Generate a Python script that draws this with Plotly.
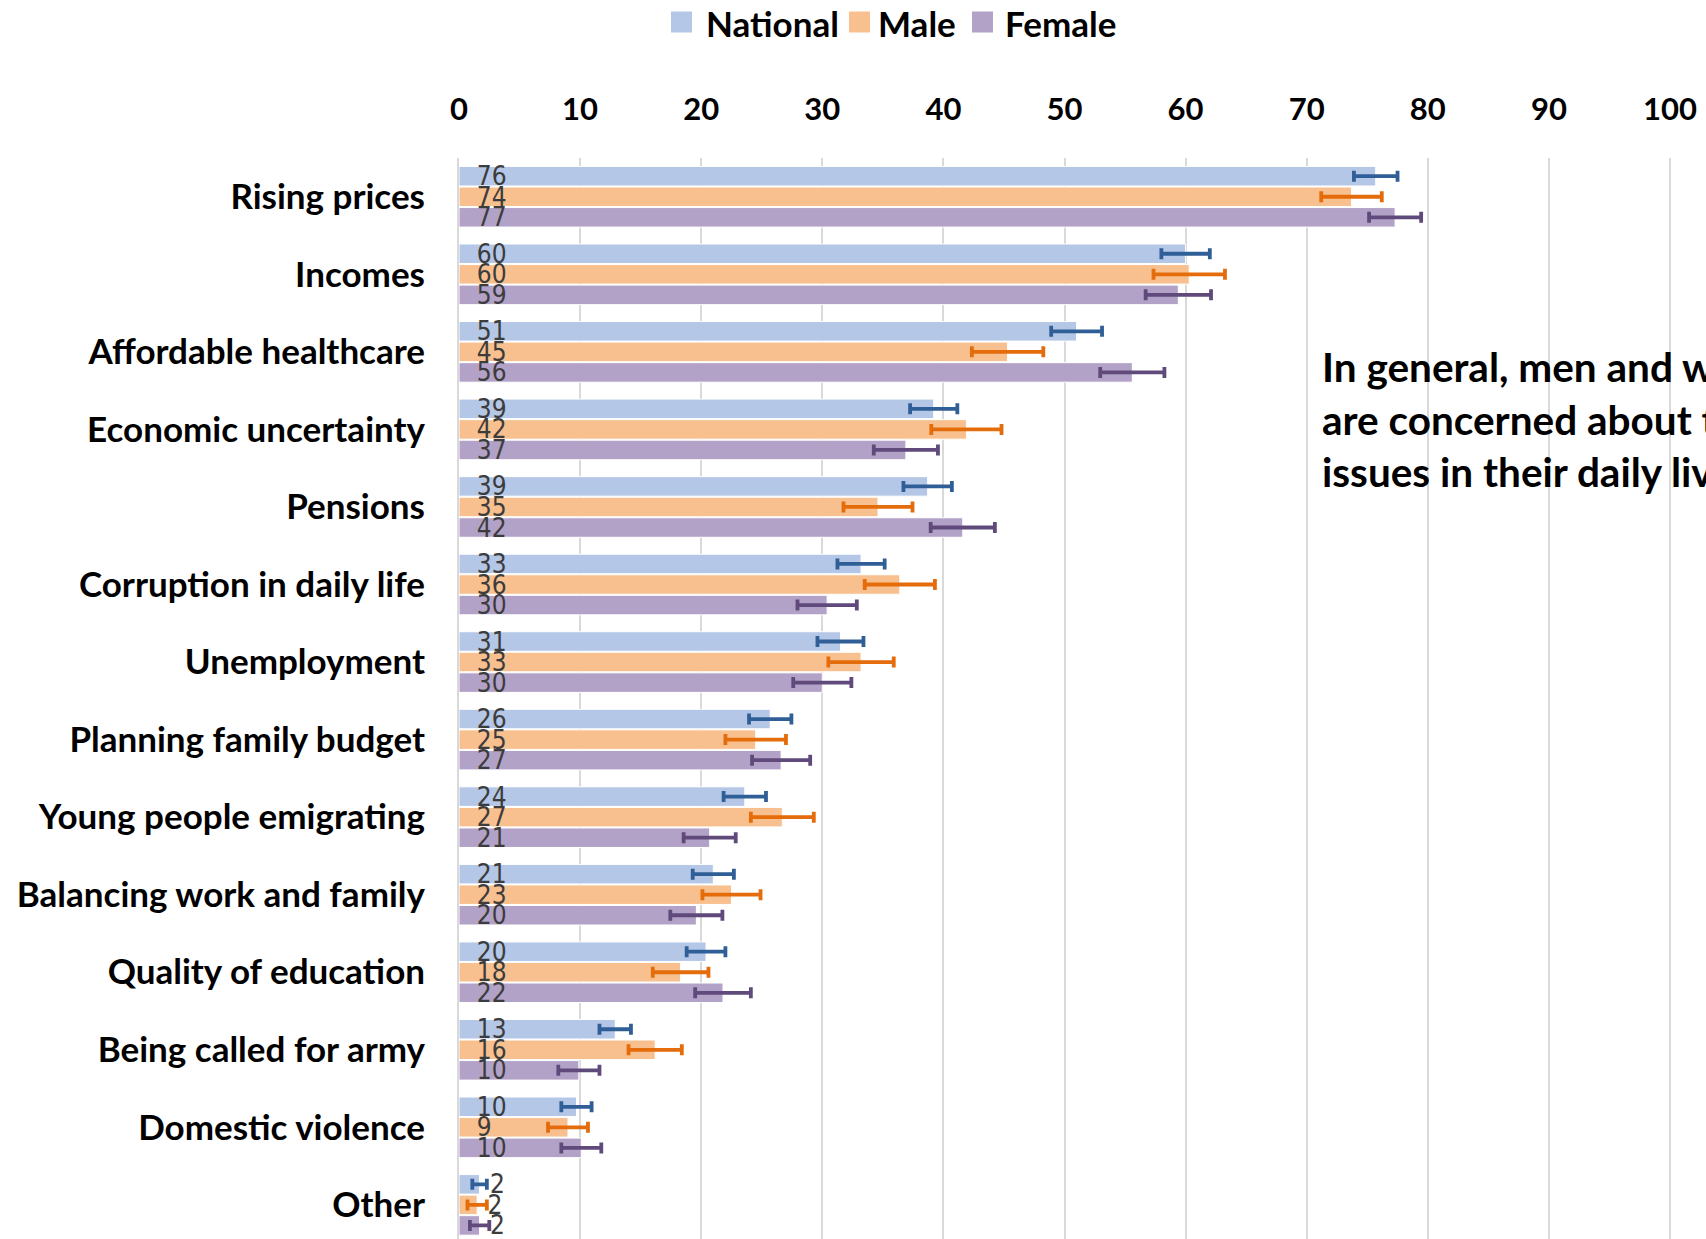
import plotly.graph_objects as go

categories = ["Rising prices", "Incomes", "Affordable healthcare", "Economic uncertainty",
              "Pensions", "Corruption in daily life", "Unemployment", "Planning family budget",
              "Young people emigrating", "Balancing work and family", "Quality of education",
              "Being called for army", "Domestic violence", "Other"]

national = [75.7, 60.0, 51.0, 39.2, 38.7, 33.2, 31.5, 25.7, 23.6, 21.0, 20.4, 12.9, 9.7, 1.7]
male = [73.7, 60.3, 45.3, 41.9, 34.6, 36.4, 33.2, 24.5, 26.7, 22.5, 18.3, 16.2, 9.0, 1.5]
female = [77.3, 59.4, 55.6, 36.9, 41.6, 30.4, 30.0, 26.6, 20.7, 19.6, 21.8, 9.9, 10.1, 1.7]

national_err = [1.8, 2.0, 2.1, 1.95, 2.0, 1.95, 1.9, 1.75, 1.75, 1.7, 1.6, 1.3, 1.25, 0.6]
male_err = [2.5, 2.95, 2.95, 2.9, 2.85, 2.9, 2.7, 2.5, 2.6, 2.4, 2.3, 2.2, 1.65, 0.8]
female_err = [2.15, 2.7, 2.65, 2.65, 2.65, 2.45, 2.4, 2.4, 2.15, 2.15, 2.3, 1.7, 1.65, 0.8]

national_lbl = [76, 60, 51, 39, 39, 33, 31, 26, 24, 21, 20, 13, 10, 2]
male_lbl = [74, 60, 45, 42, 35, 36, 33, 25, 27, 23, 18, 16, 9, 2]
female_lbl = [77, 59, 56, 37, 42, 30, 30, 27, 21, 20, 22, 10, 10, 2]

series_names = ["National", "Male", "Female"]
bar_colors = ["#B4C7E7", "#F8C08F", "#B3A2C7"]
err_colors = ["#2F5F96", "#E46C0A", "#5F4A7B"]

note = "In general, men and women<br>are concerned about the same<br>issues in their daily lives."

W, H = 1706, 1239
ML, MT = 459, 158
PW, PH = W - ML, H - MT

def px_x(p):
    return (p - ML) / PW

def px_y(p):
    return (H - p) / PH

label_font = "DejaVu Sans Condensed, Liberation Sans Narrow, sans-serif"
bold_font = "Lato, Open Sans, sans-serif"

fig = go.Figure()
NBSP = "\u00a0"
for name, vals, errs, lbls, col, ecol in zip(series_names, [national, male, female],
                                               [national_err, male_err, female_err],
                                               [national_lbl, male_lbl, female_lbl],
                                               bar_colors, err_colors):
    texts = []
    positions = []
    for v, l in zip(vals, lbls):
        if v < 5:
            texts.append(NBSP + str(l))
            positions.append("outside")
        else:
            texts.append(NBSP * 2 + str(l))
            positions.append("inside")
    fig.add_trace(go.Bar(
        name=name, y=categories, x=vals, orientation="h",
        marker=dict(color=col, line=dict(color="white", width=1)),
        error_x=dict(type="data", array=errs, visible=True, color=ecol, thickness=3.8, width=5.5),
        text=texts, textposition=positions, insidetextanchor="start", textangle=0,
        constraintext="none", cliponaxis=False,
        textfont=dict(family=label_font, size=26, color="#3C3C3C"),
        showlegend=False, hoverinfo="skip",
    ))

# manual legend (large square swatches + text)
legend_sq_left = [671, 849, 972]
legend_txt_left = [704, 876, 1003]
legend_cy = 22
SQ = 21
for name, col, sx, tx in zip(series_names, bar_colors, legend_sq_left, legend_txt_left):
    fig.add_shape(type="rect", xref="paper", yref="paper",
                  x0=px_x(sx), x1=px_x(sx + SQ),
                  y0=px_y(legend_cy + SQ / 2), y1=px_y(legend_cy - SQ / 2),
                  fillcolor=col, line=dict(width=0), layer="above")
    fig.add_annotation(text=name, xref="paper", yref="paper", x=px_x(tx), y=px_y(legend_cy + 1),
                       xanchor="left", yanchor="middle", showarrow=False,
                       font=dict(family=bold_font, size=35, color="black", weight="bold"))

fig.add_shape(type="rect", xref="x", yref="y domain", x0=69.3, x1=103,
              y0=px_y(505), y1=px_y(330), fillcolor="white", line=dict(width=0), layer="below")

fig.add_annotation(text=note, xref="paper", yref="paper", x=px_x(1320), y=px_y(419),
                   xanchor="left", yanchor="middle", align="left", showarrow=False,
                   font=dict(family=bold_font, size=40.5, color="black", weight="bold"))

fig.update_layout(
    width=W, height=H,
    margin=dict(l=ML, r=0, t=MT, b=0),
    plot_bgcolor="white", paper_bgcolor="white",
    barmode="group", bargap=0.205, bargroupgap=0.05,
    showlegend=False,
    xaxis=dict(side="top", range=[0, PW / 12.11], tick0=0, dtick=10, showgrid=True,
               tickvals=list(range(0, 101, 10)),
               gridcolor="#D9D9D9", gridwidth=2, zeroline=False, showline=False,
               ticks="", ticklabelstandoff=31,
               tickfont=dict(family=bold_font, size=31, color="black", weight="bold")),
    yaxis=dict(range=[13.44, -0.5], showgrid=False, showline=True, linecolor="#D9D9D9",
               linewidth=2, ticks="", ticklabelstandoff=25, zeroline=False,
               tickfont=dict(family=bold_font, size=35, color="black", weight="bold")),
)

fig.write_html("out.html", config={"displayModeBar": False},
               post_script="document.body.style.margin='0';document.body.style.overflow='hidden';")
